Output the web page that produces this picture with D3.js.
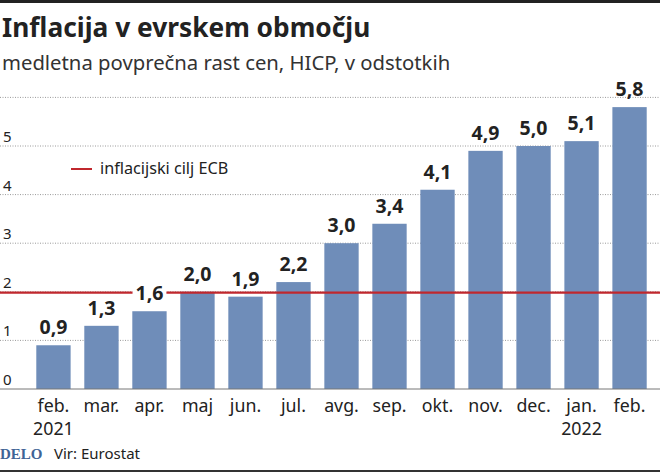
<!DOCTYPE html>
<html>
<head>
<meta charset="utf-8">
<script src="https://cdnjs.cloudflare.com/ajax/libs/d3/7.8.5/d3.min.js"></script>
<style>
  html, body { margin: 0; padding: 0; background: #fff; }
  svg { display: block; }
  text { font-family: "Noto Sans", sans-serif; fill: #222; }
</style>
</head>
<body>
<svg id="chart" width="660" height="472"></svg>
<script>
const months = ["feb.", "mar.", "apr.", "maj", "jun.", "jul.", "avg.", "sep.", "okt.", "nov.", "dec.", "jan.", "feb."];
const values = [0.9, 1.3, 1.6, 2.0, 1.9, 2.2, 3.0, 3.4, 4.1, 4.9, 5.0, 5.1, 5.8];
const yearLabels = ["2021", "", "", "", "", "", "", "", "", "", "", "2022", ""];
const yTicks = [0, 1, 2, 3, 4, 5, 6];
const yTickLabels = ["0", "1", "2", "3", "4", "5", ""];
const targetValue = 2;

const width = 660;
const height = 472;
const svg = d3.select("#chart");

const keys = months.map((m, i) => i);
const x = d3.scaleBand().domain(keys).range([29.45, 653.55]).paddingInner(0.285).paddingOuter(0.1425);
const y = d3.scaleLinear().domain([0, 6]).range([389, 97.4]);

// okvir zgoraj in spodaj
svg.append("rect").attr("x", 0).attr("y", 0).attr("width", width).attr("height", 3).attr("fill", "#222");
svg.append("rect").attr("x", 0).attr("y", 470).attr("width", width).attr("height", 2).attr("fill", "#333");

// naslov
svg.append("text")
  .attr("x", 2).attr("y", 37)
  .attr("font-size", 26.3).attr("font-weight", 700)
  .text("Inflacija v evrskem območju");
svg.append("text")
  .attr("x", 2).attr("y", 69.5)
  .attr("font-size", 20.3)
  .style("fill", "#333")
  .text("medletna povprečna rast cen, HICP, v odstotkih");

// mreža
svg.append("g")
  .selectAll("line")
  .data(yTicks.filter((t) => t > 0))
  .join("line")
  .attr("x1", 0).attr("x2", width)
  .attr("y1", (d) => y(d)).attr("y2", (d) => y(d))
  .attr("stroke", "#9a9a9a")
  .attr("stroke-width", 1)
  .attr("stroke-dasharray", "1,1.5");

// oznake na osi y
svg.append("g")
  .selectAll("text")
  .data(yTicks)
  .join("text")
  .attr("x", 3)
  .attr("y", (d) => y(d) - 4)
  .style("font-family", "'Liberation Sans Narrow', 'Noto Sans', sans-serif")
  .attr("font-size", 15)
  .text((d, i) => yTickLabels[i]);

// stolpci
svg.append("g")
  .selectAll("rect")
  .data(values)
  .join("rect")
  .attr("x", (d, i) => x(i))
  .attr("y", (d) => y(d))
  .attr("width", x.bandwidth())
  .attr("height", (d) => y(0) - y(d))
  .attr("fill", "#6f8db9");

// os x
svg.append("line")
  .attr("x1", 0).attr("x2", width)
  .attr("y1", y(0)).attr("y2", y(0))
  .attr("stroke", "#777").attr("stroke-width", 1);

// ciljna črta
svg.append("line")
  .attr("x1", 0).attr("x2", width)
  .attr("y1", y(targetValue) + 0.8).attr("y2", y(targetValue) + 0.8)
  .attr("stroke", "#c0272d").attr("stroke-width", 2.3);

// vrednosti nad stolpci
const valueLabels = svg.append("g")
  .selectAll("g")
  .data(values)
  .join("g")
  .attr("transform", (d, i) => `translate(${x(i) + x.bandwidth() / 2},${y(d) - 11})`);
const labelText = valueLabels.append("text")
  .attr("text-anchor", "middle")
  .attr("font-size", 19.5).attr("font-weight", 700)
  .text((d) => d.toFixed(1).replace(".", ","));
// bela podlaga, kjer vrednost seka rdečo črto
valueLabels.filter((d) => y(d) - 11 > y(targetValue) && y(d) - 25 < y(targetValue))
  .insert("rect", "text")
  .each(function () {
    const box = this.parentNode.querySelector("text").getBBox();
    d3.select(this)
      .attr("x", box.x - 3).attr("y", box.y)
      .attr("width", box.width + 6).attr("height", box.height)
      .attr("fill", "#fff");
  });

// meseci in leta
svg.append("g")
  .selectAll("text")
  .data(months)
  .join("text")
  .attr("x", (d, i) => x(i) + x.bandwidth() / 2)
  .attr("y", 411.5)
  .attr("text-anchor", "middle")
  .attr("font-size", 17.8)
  .text((d) => d);
svg.append("g")
  .selectAll("text")
  .data(yearLabels)
  .join("text")
  .attr("x", (d, i) => x(i) + x.bandwidth() / 2)
  .attr("y", 435)
  .attr("text-anchor", "middle")
  .attr("font-size", 17.8)
  .text((d) => d);

// legenda
svg.append("line")
  .attr("x1", 71).attr("x2", 92)
  .attr("y1", 169).attr("y2", 169)
  .attr("stroke", "#c0272d").attr("stroke-width", 2);
svg.append("text")
  .attr("x", 100).attr("y", 174)
  .attr("font-size", 16.2)
  .text("inflacijski cilj ECB");

// vir
svg.append("text")
  .attr("x", 0).attr("y", 459)
  .style("font-family", "'Liberation Serif', serif")
  .style("fill", "#3f6496")
  .attr("font-size", 15).attr("font-weight", 700)
  .text("DELO");
svg.append("text")
  .attr("x", 54).attr("y", 458.5)
  .style("font-family", "'Liberation Sans Narrow', 'Noto Sans', sans-serif")
  .attr("font-size", 15)
  .text("Vir: Eurostat");
</script>
</body>
</html>
